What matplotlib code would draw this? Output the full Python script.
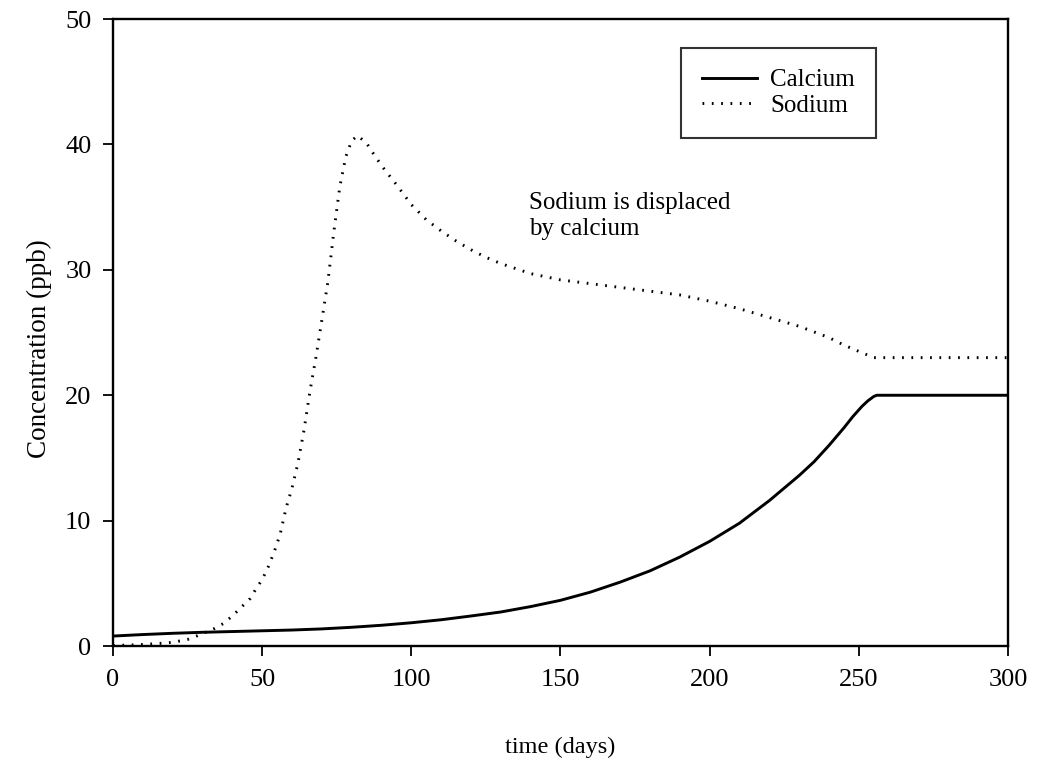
import matplotlib
matplotlib.use("Agg")
import matplotlib.pyplot as plt

calcium_days = [0, 10, 20, 30, 40, 50, 60, 70, 80, 90, 100, 110, 120, 130, 140, 150,
                160, 170, 180, 190, 200, 210, 220, 230, 235, 240, 245, 248, 251, 253, 255,
                256, 300]
calcium_vals = [0.8, 0.92, 1.02, 1.1, 1.16, 1.22, 1.28, 1.37, 1.5, 1.66, 1.86, 2.1, 2.4, 2.72,
                3.15, 3.65, 4.3, 5.1, 6.0, 7.1, 8.35, 9.8, 11.6, 13.6, 14.7, 16.0, 17.4,
                18.3, 19.1, 19.55, 19.9, 20.0, 20.0]

sodium_days = [0, 5, 10, 15, 20, 25, 28, 31, 34, 37, 40, 43, 46, 48, 50, 52, 54, 56, 58,
               60, 62, 64, 66, 68, 70, 72, 74, 76, 78, 80, 82, 85, 88, 91, 95, 100, 105,
               110, 115, 120, 125, 130, 135, 140, 150, 160, 170, 180, 190, 200, 210, 220,
               230, 240, 245, 250, 255, 300]
sodium_vals = [0.05, 0.08, 0.13, 0.2, 0.3, 0.53, 0.8, 1.1, 1.4, 1.8, 2.4, 3.1, 3.8, 4.6,
               5.3, 6.3, 7.5, 8.9, 11.0, 12.6, 14.6, 17.2, 20.3, 23.0, 26.0, 29.0, 33.0,
               36.6, 39.0, 40.3, 40.7, 40.1, 39.0, 38.0, 36.8, 35.2, 34.0, 33.1, 32.3, 31.6,
               31.0, 30.5, 30.1, 29.7, 29.2, 28.9, 28.6, 28.3, 28.0, 27.5, 26.9, 26.2,
               25.5, 24.6, 24.0, 23.5, 23.0, 23.0]

x_ticks = [0, 50, 100, 150, 200, 250, 300]
y_ticks = [0, 10, 20, 30, 40, 50]

plt.rcParams['font.family'] = ['Liberation Serif', 'DejaVu Serif']

fig = plt.figure(figsize=(10.37, 7.61), dpi=100)
ax = fig.add_axes([0.109, 0.151, 0.863, 0.824])

ax.plot(calcium_days, calcium_vals, color='black', linewidth=2.1, label='Calcium')
ax.plot(sodium_days, sodium_vals, color='black', linewidth=2.1, linestyle=(0, (0.6, 2.6)),
        label='Sodium')

ax.set_xlim(0, 300)
ax.set_ylim(0, 50)
ax.set_xticks(x_ticks)
ax.set_yticks(y_ticks)
ax.tick_params(direction='out', length=7.5, width=1.3, labelsize=19)
ax.tick_params(axis='x', pad=9)
ax.tick_params(axis='y', pad=8)
for s in ax.spines.values():
    s.set_linewidth(1.7)

ax.set_xlabel('time (days)', fontsize=17.5)
ax.set_ylabel('Concentration (ppb)', fontsize=19.5)
ax.xaxis.set_label_coords(0.5, -0.144)
ax.yaxis.set_label_coords(-0.068, 0.475)

ax.text(139.5, 36.2, 'Sodium is displaced\nby calcium', fontsize=18, va='top', ha='left',
        linespacing=1.22)

leg = ax.legend(loc='upper right', bbox_to_anchor=(0.8525, 0.9545), fontsize=18,
                frameon=True, fancybox=False, edgecolor='black', handlelength=2.2,
                handletextpad=0.5, borderpad=0.85, labelspacing=0.12, borderaxespad=0)
leg.get_frame().set_linewidth(1.5)

fig.savefig('out.png', dpi=100)
